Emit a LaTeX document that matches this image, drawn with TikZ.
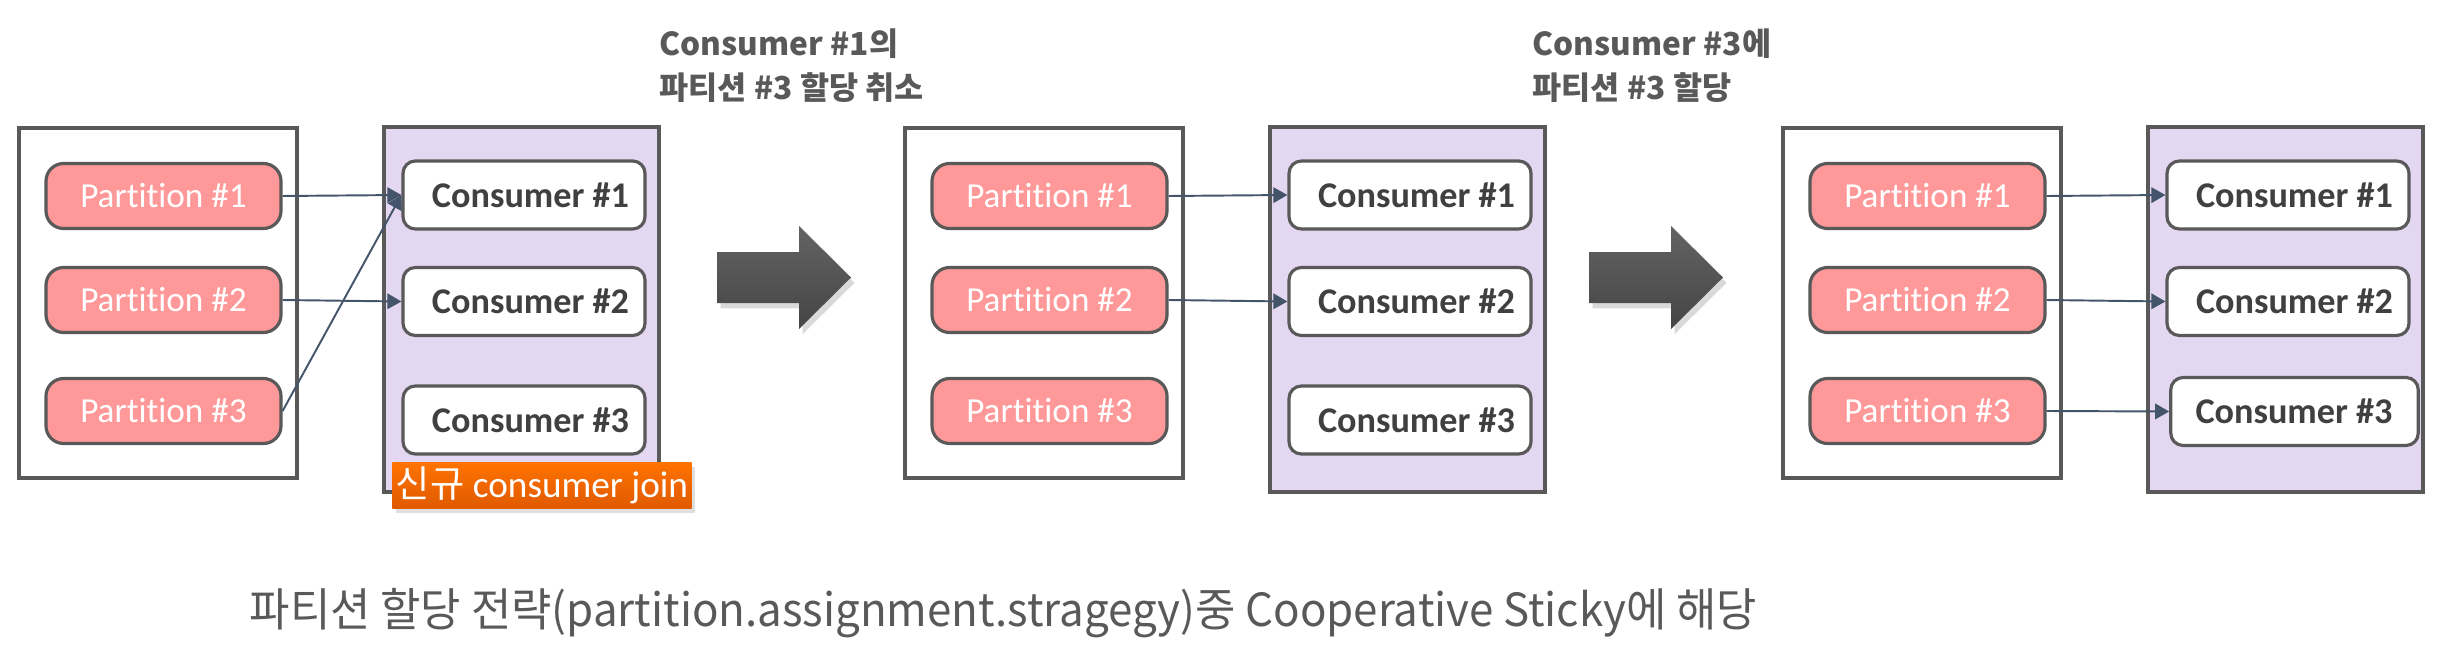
\documentclass[tikz,border=0pt]{standalone}
\usepackage{fontspec}
\setmainfont{Carlito}[Ligatures=NoCommon]
\newfontfamily\krfont{Noto Sans CJK KR}
\newfontfamily\capfont{Noto Sans CJK KR}[FakeStretch=0.96]
\usetikzlibrary{positioning, arrows.meta, shadows}
\definecolor{Ink}{HTML}{595959}
\definecolor{DarkInk}{HTML}{404040}
\definecolor{Rose}{HTML}{FF9999}
\definecolor{Lilac}{HTML}{E4D7F2}
\definecolor{Slate}{HTML}{44546A}
\definecolor{OrangeTop}{HTML}{FF7300}
\definecolor{OrangeBot}{HTML}{E05A00}
\definecolor{ArrowTop}{HTML}{636363}
\definecolor{ArrowBot}{HTML}{454545}
\tikzset{
    partbox/.style={rectangle, draw=Ink, line width=0.9pt, fill=white, minimum width=2.78cm, minimum height=3.5cm},
    consbox/.style={rectangle, draw=Ink, line width=0.9pt, fill=Lilac, minimum width=2.75cm, minimum height=3.65cm},
    partnode/.style={rectangle, rounded corners=5pt, draw=Ink, line width=0.9pt, fill=Rose, text=white, minimum width=2.35cm, minimum height=0.65cm, font=\fontsize{10}{12}\selectfont},
    consnode/.style={rectangle, rounded corners=3.5pt, draw=Ink, line width=0.9pt, fill=white, text=DarkInk, minimum width=2.42cm, minimum height=0.68cm, font=\bfseries\fontsize{10.3}{12}\selectfont, execute at begin node=\hspace*{0.13cm}},
    link/.style={-{Triangle[length=4pt, width=4.4pt]}, line width=0.55pt, color=Slate},
    steptitle/.style={anchor=north west, align=left, inner sep=0pt, text=Ink, font=\krfont\bfseries\fontsize{9}{12.5}\selectfont},
    joinlabel/.style={rectangle, top color=OrangeTop, bottom color=OrangeBot, text=white, inner sep=1pt, minimum width=2.98cm, minimum height=0.46cm, font=\fontsize{10.6}{12}\selectfont, drop shadow={opacity=0.25, shadow xshift=1pt, shadow yshift=-1.5pt}},
    bigarrow/.style={top color=ArrowTop, bottom color=ArrowBot, drop shadow={opacity=0.3, shadow xshift=1pt, shadow yshift=-1.5pt}},
}
\begin{document}
\begin{tikzpicture}
    \useasboundingbox (0,0) rectangle (24.4,6.52);

    % --- 1. NEW CONSUMER JOINS ---
    \begin{scope}[shift={(0.19,0)}]
        \node[partbox] (g1parts) at (1.39, 3.49) {};
        \node[consbox] (g1cons) at (5.025, 3.425) {};

        \node[partnode] (g1p1) at (1.445, 4.56) {Partition \#1};
        \node[partnode] (g1p2) at (1.445, 3.52) {Partition \#2};
        \node[partnode] (g1p3) at (1.445, 2.41) {Partition \#3};

        \node[consnode] (g1c1) at (5.05, 4.57) {Consumer \#1};
        \node[consnode] (g1c2) at (5.05, 3.505) {Consumer \#2};
        \node[consnode] (g1c3) at (5.05, 2.32) {Consumer \#3};

        \node[joinlabel] (g1join) at (5.23, 1.67) {{\krfont 신규} consumer join};

        \draw[link] (g1p1.east) -- (g1c1.west);
        \draw[link] (g1p2.east) -- (g1c2.west);
        \draw[link] (g1p3.east) -- (g1c1.west);
    \end{scope}

    % --- 2. PARTITION #3 REVOKED ---
    \node[steptitle] (revoke) at (6.59, 6.24) {Consumer \#1의\\파티션 \#3 할당 취소};
    \begin{scope}[shift={(9.05,0)}]
        \node[partbox] (g2parts) at (1.39, 3.49) {};
        \node[consbox] (g2cons) at (5.025, 3.425) {};

        \node[partnode] (g2p1) at (1.445, 4.56) {Partition \#1};
        \node[partnode] (g2p2) at (1.445, 3.52) {Partition \#2};
        \node[partnode] (g2p3) at (1.445, 2.41) {Partition \#3};

        \node[consnode] (g2c1) at (5.05, 4.57) {Consumer \#1};
        \node[consnode] (g2c2) at (5.05, 3.505) {Consumer \#2};
        \node[consnode] (g2c3) at (5.05, 2.32) {Consumer \#3};

        \draw[link] (g2p1.east) -- (g2c1.west);
        \draw[link] (g2p2.east) -- (g2c2.west);
    \end{scope}

    % --- 3. PARTITION #3 REASSIGNED ---
    \node[steptitle] (assign) at (15.32, 6.24) {Consumer \#3에\\파티션 \#3 할당};
    \begin{scope}[shift={(17.83,0)}]
        \node[partbox] (g3parts) at (1.39, 3.49) {};
        \node[consbox] (g3cons) at (5.025, 3.425) {};

        \node[partnode] (g3p1) at (1.445, 4.56) {Partition \#1};
        \node[partnode] (g3p2) at (1.445, 3.52) {Partition \#2};
        \node[partnode] (g3p3) at (1.445, 2.41) {Partition \#3};

        \node[consnode] (g3c1) at (5.05, 4.57) {Consumer \#1};
        \node[consnode] (g3c2) at (5.05, 3.505) {Consumer \#2};
        \node[consnode, execute at begin node={}, execute at end node=\hspace*{0.14cm}] (g3c3) at (5.115, 2.405) {Consumer \#3};

        \draw[link] (g3p1.east) -- (g3c1.west);
        \draw[link] (g3p2.east) -- (g3c2.west);
        \draw[link] (g3p3.east) -- (g3c3.west);
    \end{scope}

    % Step arrows
    \foreach \ax in {7.17, 15.89}
        \path[bigarrow] (\ax, 4.00) -- ++(0.82, 0) -- ++(0, 0.26) -- ++(0.52, -0.515)
            -- ++(-0.52, -0.515) -- ++(0, 0.26) -- ++(-0.82, 0) -- cycle;

    % Caption
    \node[font=\capfont\fontsize{13}{15}\selectfont, text=Ink] (caption) at (10.035, 0.39)
        {파티션 할당 전략(partition.assignment.stragegy)중 Cooperative Sticky에 해당};
\end{tikzpicture}
\end{document}
